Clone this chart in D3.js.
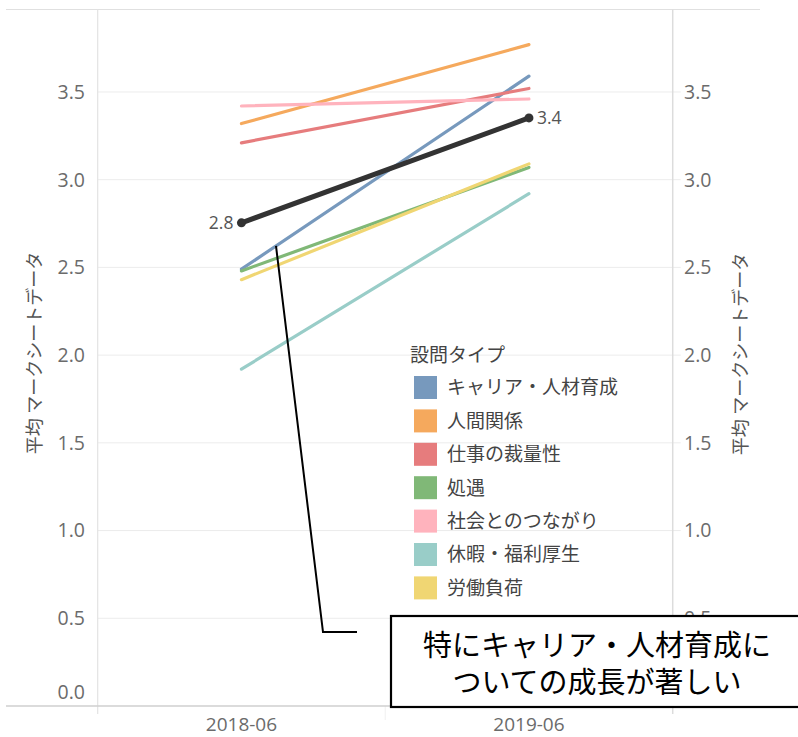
<!DOCTYPE html>
<html>
<head>
<meta charset="utf-8">
<script src="https://cdn.jsdelivr.net/npm/d3@7"></script>
<style>
  html, body { margin: 0; padding: 0; background: #fff; }
  svg { display: block; }
  text { font-family: "Open Sans", "Noto Sans CJK JP", sans-serif; }
</style>
</head>
<body>
<svg id="chart" width="798" height="737"></svg>
<script>
// Survey periods (x categories)
const periods = ["2018-06", "2019-06"];

// Question types and their colours
const categories = ["キャリア・人材育成", "人間関係", "仕事の裁量性", "処遇", "社会とのつながり", "休暇・福利厚生", "労働負荷"];
const colors = ["#7799bd", "#f5a95d", "#e67c7d", "#80b877", "#ffb3bd", "#99cdc8", "#f0d673"];

// Average mark-sheet score per question type, one value per period
const careerValues   = [2.49, 3.59];
const relationValues = [3.32, 3.77];
const discretValues  = [3.21, 3.52];
const payValues      = [2.48, 3.07];
const socialValues   = [3.42, 3.46];
const welfareValues  = [1.92, 2.92];
const workloadValues = [2.43, 3.09];
const seriesValues = [careerValues, relationValues, discretValues, payValues, socialValues, welfareValues, workloadValues];

// Overall average line
const averageValues = [2.754, 3.352];

// Axis ticks (the right axis stops where the callout box sits)
const yTicks = [0, 0.5, 1.0, 1.5, 2.0, 2.5, 3.0, 3.5];
const yTicksRight = [0.5, 1.0, 1.5, 2.0, 2.5, 3.0, 3.5];

const axisTitle = "平均 マークシートデータ";
const legendTitle = "設問タイプ";
const noteLines = ["特にキャリア・人材育成に", "ついての成長が著しい"];

const svg = d3.select("#chart");

const plotLeft = 97.7, plotRight = 672.7, plotTop = 9.5, plotBottom = 706;

const x = d3.scaleBand().domain(periods).range([plotLeft, plotRight]).padding(0);
const cx = p => x(p) + x.bandwidth() / 2;
const y = d3.scaleLinear().domain([0, 3.97]).range([plotBottom, plotTop]);

// Frame line at the top
svg.append("line").attr("x1", 6).attr("x2", 760).attr("y1", plotTop).attr("y2", plotTop)
  .attr("stroke", "#e0e0e0").attr("stroke-width", 1);

// Horizontal gridlines
svg.append("g").selectAll("line").data(yTicks.filter(d => d > 0)).join("line")
  .attr("x1", plotLeft).attr("x2", plotRight + 8)
  .attr("y1", d => y(d)).attr("y2", d => y(d))
  .attr("stroke", "#ececec").attr("stroke-width", 1);

// Column dividers and vertical axis lines
svg.append("line").attr("x1", plotLeft).attr("x2", plotLeft).attr("y1", plotTop).attr("y2", 714)
  .attr("stroke", "#e3e3e3").attr("stroke-width", 1.2);
svg.append("line").attr("x1", plotRight).attr("x2", plotRight).attr("y1", plotTop).attr("y2", 714)
  .attr("stroke", "#dcdcdc").attr("stroke-width", 1.5);
svg.append("line").attr("x1", x(periods[1])).attr("x2", x(periods[1])).attr("y1", plotBottom).attr("y2", 720)
  .attr("stroke", "#f0f0f0").attr("stroke-width", 1);

// Baseline
svg.append("line").attr("x1", 6).attr("x2", 760).attr("y1", plotBottom).attr("y2", plotBottom)
  .attr("stroke", "#cfcfcf").attr("stroke-width", 1.5);

// Left axis labels
const yFmt = d3.format(".1f");
svg.append("g").selectAll("text").data(yTicks).join("text")
  .attr("x", 85)
  .attr("y", d => d === 0 ? y(d) - 14 : y(d))
  .attr("dy", "0.35em")
  .attr("text-anchor", "end")
  .attr("font-size", 19.5)
  .attr("fill", "#6b6b6b")
  .text(yFmt);

// Right axis labels
svg.append("g").selectAll("text").data(yTicksRight).join("text")
  .attr("x", 684)
  .attr("y", d => y(d))
  .attr("dy", "0.35em")
  .attr("text-anchor", "start")
  .attr("font-size", 19.5)
  .attr("fill", "#6b6b6b")
  .text(yFmt);

// Axis titles
svg.append("text")
  .attr("transform", `translate(41, 353) rotate(-90)`)
  .attr("text-anchor", "middle")
  .attr("font-family", "Noto Sans CJK JP")
  .attr("font-size", 18)
  .attr("fill", "#555")
  .text(axisTitle);
svg.append("text")
  .attr("transform", `translate(747, 354) rotate(-90)`)
  .attr("text-anchor", "middle")
  .attr("font-family", "Noto Sans CJK JP")
  .attr("font-size", 18)
  .attr("fill", "#555")
  .text(axisTitle);

// X axis labels
svg.append("g").selectAll("text").data(periods).join("text")
  .attr("x", p => cx(p))
  .attr("y", 731)
  .attr("text-anchor", "middle")
  .attr("font-size", 19)
  .attr("fill", "#6b6b6b")
  .text(p => p);

// Category lines
const line = d3.line().x((d, i) => cx(periods[i])).y(d => y(d));
svg.append("g").selectAll("path").data(seriesValues).join("path")
  .attr("d", d => line(d))
  .attr("fill", "none")
  .attr("stroke", (d, i) => colors[i])
  .attr("stroke-width", 3.2)
  .attr("stroke-linecap", "round");

// Average line with end points and labels
svg.append("path")
  .attr("d", line(averageValues))
  .attr("fill", "none")
  .attr("stroke", "#333333")
  .attr("stroke-width", 5)
  .attr("stroke-linecap", "round");
svg.append("g").selectAll("circle").data(averageValues).join("circle")
  .attr("cx", (d, i) => cx(periods[i]))
  .attr("cy", d => y(d))
  .attr("r", 4.5)
  .attr("fill", "#333333");
svg.append("g").selectAll("text").data(averageValues).join("text")
  .attr("x", (d, i) => cx(periods[i]) + (i === 0 ? -8 : 8))
  .attr("y", d => y(d))
  .attr("dy", "0.35em")
  .attr("text-anchor", (d, i) => i === 0 ? "end" : "start")
  .attr("font-size", 17.5)
  .attr("fill", "#555")
  .text(d => yFmt(d));

// Legend
const legend = svg.append("g");
legend.append("text")
  .attr("x", 410).attr("y", 355).attr("dy", "0.35em")
  .attr("font-family", "Noto Sans CJK JP")
  .attr("font-size", 19)
  .attr("fill", "#444")
  .text(legendTitle);
const rows = legend.selectAll("g.row").data(categories).join("g")
  .attr("class", "row")
  .attr("transform", (d, i) => `translate(414, ${376 + i * 33.4})`);
rows.append("rect")
  .attr("width", 23).attr("height", 23)
  .attr("fill", (d, i) => colors[i]);
rows.append("text")
  .attr("x", 33).attr("y", 11.5).attr("dy", "0.36em")
  .attr("font-family", "Noto Sans CJK JP")
  .attr("font-size", 19)
  .attr("fill", "#444")
  .text(d => d);

// Callout pointing to the career line
const x0 = cx(periods[0]), x1 = cx(periods[1]);
const anchorX = 276;
const anchorY = y(careerValues[0]) + (y(careerValues[1]) - y(careerValues[0])) * ((anchorX - x0) / (x1 - x0));
const leader = [[anchorX, anchorY], [323, 632], [357, 632]];
svg.append("path")
  .attr("d", d3.line()(leader))
  .attr("fill", "none")
  .attr("stroke", "#000")
  .attr("stroke-width", 2);

svg.append("rect")
  .attr("x", 391).attr("y", 616)
  .attr("width", 412).attr("height", 91)
  .attr("fill", "#fff")
  .attr("stroke", "#000")
  .attr("stroke-width", 2.2);
svg.append("g").selectAll("text").data(noteLines).join("text")
  .attr("x", 597)
  .attr("y", (d, i) => 646 + i * 37)
  .attr("dy", "0.36em")
  .attr("text-anchor", "middle")
  .attr("font-family", "Noto Sans CJK JP")
  .attr("font-size", 29)
  .attr("fill", "#000")
  .text(d => d);
</script>
</body>
</html>
